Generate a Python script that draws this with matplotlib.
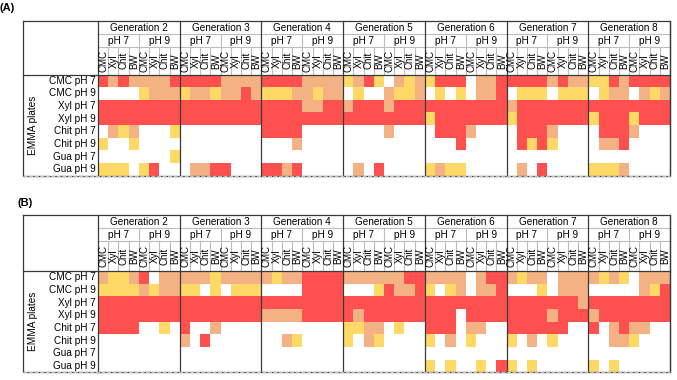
import numpy as np
import matplotlib.pyplot as plt
from matplotlib.colors import ListedColormap

plt.rcParams['font.family'] = ['Liberation Sans', 'DejaVu Sans']

# ---- data ----
generations = ["Generation 2", "Generation 3", "Generation 4", "Generation 5",
               "Generation 6", "Generation 7", "Generation 8"]
ph_levels = ["pH 7", "pH 9"]
substrates = ["CMC", "Xyl", "Chit", "BW"]
plates = ["CMC pH 7", "CMC pH 9", "Xyl pH 7", "Xyl pH 9",
          "Chit pH 7", "Chit pH 9", "Gua pH 7", "Gua pH 9"]

# w = none, y = weak, s = medium, r = strong ; one group of 8 per generation
panel_a = [
    "rsrssssr rrrrssss rrrrssss ysrywsys yrrrwssr rrrrsrss yyrsrrrr",
    "wwwwysss yssyssrs yyyssyss wywwsyys wywywssr wyyywyyy wysswsys",
    "rrrrrrrr rrrrrrrr rrrrssrr srrrsrrr rrrrrrrr srrrrrrr rrrrrrrr",
    "rrrrrrrr rrrrrrrr rrrrrrrr rrrrrrrr yrrrrrrr yrrrrrrr yrrryrrr",
    "wsyswwwy wwwwwwww rrrrwwww wwwwswww wrrrswww wrrrswww wrrrswww",
    "ywwywwww wwwwwwww wwwswwww wwwwwwww wwwrwwww wryrywww wssrwwww",
    "wwwwwwwy wwwwwwww wwwwwwww wwwwwwww wwwwwwww wwwwwwww wwwwwwww",
    "yyywyrww wssrrwww rrsrwwww wswrwwww ysyywwww wswrwwww yyyswwww",
]
panel_b = [
    "syysrwss sssyssss syssrrrr ssssssrr sssswsrr sysswsss sysywsss",
    "yyyysyss yywywyyy wwwwrrrr wwwyrssr ywyswssr wwwywsss wwwwwsyr",
    "rrrrrrrr rrrrrrrr rrrrrrrr rrrrrrrr rrrrrrrr rrrrrrrs rrrrrrrr",
    "rrrrrrrr rrrrrrrr ssssrrrr rsrrrrrr rrrwrrrr rrrrsrrr srrrrrrr",
    "rrrrwwyw rwwswwww wwwwwwww yysswyww rrrwssww rrrrrrww rwsrssww",
    "wwwwwwww swrwwwww wwsywwww ywsywwww ywswywww ywswywww wwssywww",
    "wwwwwwww wwwwwwww wwwwwwww wwwwwwww wwwwwwww wwwwwwww wwwwwwww",
    "wwwwwwww wwwwwwww wwwwwwww wwwwwwww ywywwywr ywywwwww ywywwwww",
]
panel_labels = ["(A)", "(B)"]

code = {"w": 0, "y": 1, "s": 2, "r": 3}
cmap = ListedColormap(["white", "#FFD966", "#F4B183", "#FF5050"])


def to_array(rows):
    return np.array([[code[c] for c in r.replace(" ", "")] for r in rows])


# ---- layout (pixels) ----
W, H = 677, 380
x_tab = 23
x_dat = 98
x_end = 670
n_col = len(generations) * len(ph_levels) * len(substrates)
cw = (x_end - x_dat) / n_col
rh = 12.65
dark = "#3a3a3a"
light = "#bdbdbd"

fig = plt.figure(figsize=(W / 100, H / 100), dpi=100)
ax = fig.add_axes([0, 0, 1, 1])
ax.set_xlim(0, W)
ax.set_ylim(H, 0)
ax.axis("off")


def draw_panel(rows, label, lab_xy, top, gen_h, ph_h, sub_h):
    data = to_array(rows)
    y_gen = top + gen_h
    y_ph = y_gen + ph_h
    y_dat = y_ph + sub_h
    y_bot = y_dat + rh * len(plates)
    xe = x_dat + cw * np.arange(n_col + 1)
    ye = y_dat + rh * np.arange(len(plates) + 1)
    ax.pcolormesh(xe, ye, data, cmap=cmap, vmin=-0.5, vmax=3.5)

    ax.text(lab_xy[0], lab_xy[1], label, fontsize=8, fontweight="bold",
            ha="left", va="center")

    # header texts
    gw = cw * 8
    for g, name in enumerate(generations):
        gx = x_dat + g * gw
        ax.text(gx + gw / 2, (top + y_gen) / 2 + 0.5, name, fontsize=7.2,
                ha="center", va="center")
        for p, ph in enumerate(ph_levels):
            px = gx + p * cw * 4
            ax.text(px + cw * 2, (y_gen + y_ph) / 2 + 0.5, ph, fontsize=7.2,
                    ha="center", va="center")
            for s, sub in enumerate(substrates):
                sx = px + s * cw
                ax.text(sx + cw / 2 + 0.3, (y_ph + y_dat) / 2, sub, fontsize=7,
                        rotation=90, ha="center", va="center")
    # header grid
    for k in range(n_col + 1):
        x = x_dat + k * cw
        if k % 8 == 0:
            continue
        if k % 4 == 0:
            ax.plot([x, x], [y_gen, y_dat], color=light, lw=0.8)
        else:
            ax.plot([x, x], [y_ph, y_dat], color=light, lw=0.8)
    ax.plot([x_dat, x_end], [y_gen, y_gen], color=light, lw=0.8)
    ax.plot([x_dat, x_end], [y_ph, y_ph], color=light, lw=0.8)
    for g in range(len(generations) + 1):
        x = x_dat + g * gw
        ax.plot([x, x], [top, y_bot], color=dark, lw=0.9)
    ax.plot([x_tab, x_end], [y_dat, y_dat], color=dark, lw=0.9)
    ax.plot([x_tab, x_end, x_end, x_tab, x_tab], [top, top, y_bot, y_bot, top],
            color=dark, lw=0.9)
    ax.plot([x_tab, x_end], [y_bot, y_bot], color=light, lw=1.0, ls=(0, (3, 1)))

    # row labels
    for i, name in enumerate(plates):
        ax.text(x_dat - 2, y_dat + rh * (i + 0.5), name, fontsize=7.2,
                ha="right", va="center")
    ax.text(33, (y_dat + y_bot) / 2, "EMMA plates", fontsize=7.2, rotation=90,
            ha="center", va="center")


draw_panel(panel_a, panel_labels[0], (0, 8), 21, 13, 13, 27.5)
draw_panel(panel_b, panel_labels[1], (18, 203), 215, 13, 13, 30)

fig.savefig("out.png", dpi=100)
